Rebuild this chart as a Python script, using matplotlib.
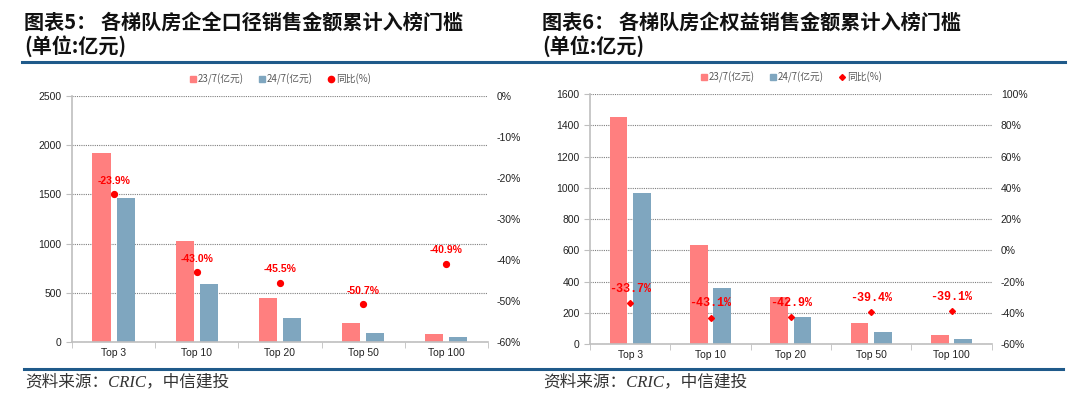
import matplotlib.pyplot as plt
import numpy as np
from matplotlib.lines import Line2D

plt.rcParams['font.family'] = ['Noto Sans CJK SC', 'DejaVu Sans']

cats = ['Top 3', 'Top 10', 'Top 20', 'Top 50', 'Top 100']

# chart 5: all-caliber sales threshold (100m yuan)
full_23 = [1925, 1025, 445, 195, 80]
full_24 = [1465, 585, 240, 95, 50]
full_yoy = [-23.9, -43.0, -45.5, -50.7, -40.9]

# chart 6: equity sales threshold (100m yuan)
eq_23 = [1455, 635, 300, 133, 58]
eq_24 = [965, 360, 172, 80, 35]
eq_yoy = [-33.7, -43.1, -42.9, -39.4, -39.1]

PINK = '#FF7F7F'
BLUE = '#7FA6BF'
RED = '#FF0000'
GRID = '#7F7F7F'

fig = plt.figure(figsize=(10.8, 3.95), dpi=100)


def panel(rect, v23, v24, yoy, ylim, ystep, y2lim, y2step, mono):
    ax = fig.add_axes(rect)
    x = np.arange(len(cats))
    ax.bar(x - 0.145, v23, width=0.22, color=PINK, zorder=2)
    ax.bar(x + 0.145, v24, width=0.22, color=BLUE, zorder=2)
    ax.set_xlim(-0.5, len(cats) - 0.5)
    ax.set_ylim(*ylim)
    ax.set_yticks(np.arange(ylim[0], ylim[1] + 1, ystep))
    ax.yaxis.grid(True, color=GRID, linestyle=(0, (1, 1)), linewidth=0.8, zorder=0)
    ax.set_xticks(x)
    ax.set_xticklabels(cats)
    ax.set_xticks(np.arange(-0.5, len(cats)), minor=True)
    ax.tick_params(axis='x', which='major', length=0, labelsize=7.5, colors='#222222', pad=4)
    ax.tick_params(axis='x', which='minor', length=4, color='#BFBFBF')
    ax.tick_params(axis='y', length=4, color='#BFBFBF', labelsize=7.5, labelcolor='#222222')
    for s in ['top', 'right']:
        ax.spines[s].set_visible(False)
    for s in ['left', 'bottom']:
        ax.spines[s].set_color('#BFBFBF')
        ax.spines[s].set_linewidth(1.2)
    for lab in ax.get_yticklabels() + ax.get_xticklabels():
        lab.set_family(['Liberation Sans', 'DejaVu Sans'])

    ax2 = ax.twinx()
    ax2.set_ylim(*y2lim)
    ax2.set_yticks(np.arange(y2lim[0], y2lim[1] + 1, y2step))
    ax2.set_yticklabels([f'{int(round(t))}%' for t in ax2.get_yticks()])
    ax2.tick_params(axis='y', length=0, labelsize=7.5, labelcolor='#222222', pad=6.5)
    for lab in ax2.get_yticklabels():
        lab.set_family(['Liberation Sans', 'DejaVu Sans'])
    for s in ax2.spines.values():
        s.set_visible(False)
    if mono:
        ax2.plot(x, yoy, linestyle='none', marker='D', markersize=3, color=RED, zorder=4)
        for xi, v in zip(x, yoy):
            ax2.annotate(f'{v:.1f}%', (xi, v), xytext=(0, 6), textcoords='offset points',
                         ha='center', va='bottom', color=RED, fontsize=8.5,
                         family='Liberation Mono', fontweight='bold')
    else:
        ax2.plot(x, yoy, linestyle='none', marker='o', markersize=4.2, color=RED, zorder=4)
        for xi, v in zip(x, yoy):
            ax2.annotate(f'{v:.1f}%', (xi, v), xytext=(0, 6), textcoords='offset points',
                         ha='center', va='bottom', color=RED, fontsize=7.5,
                         family='Liberation Sans', fontweight='bold')

    handles = [Line2D([], [], linestyle='none', marker='s', markersize=4, color=PINK),
               Line2D([], [], linestyle='none', marker='s', markersize=4, color=BLUE),
               Line2D([], [], linestyle='none', marker='D' if mono else 'o',
                      markersize=3 if mono else 4.5, color=RED)]
    leg = ax.legend(handles, ['23/7(亿元)', '24/7(亿元)', '同比(%)'], loc='lower center',
                    bbox_to_anchor=(0.5, 1.03), ncol=3, frameon=False, fontsize=7,
                    handletextpad=0.1, columnspacing=1.5, handlelength=0.8,
                    borderaxespad=0)
    for t in leg.get_texts():
        t.set_color('#595959')
    return ax


panel([0.0667, 0.134, 0.385, 0.623], full_23, full_24, full_yoy,
      (0, 2500), 500, (-60, 0), 10, False)
panel([0.5463, 0.129, 0.372, 0.633], eq_23, eq_24, eq_yoy,
      (0, 1600), 200, (-60, 100), 20, True)

# headers
for x0, title in [(24, '图表5： 各梯队房企全口径销售金额累计入榜门槛'),
                  (542, '图表6： 各梯队房企权益销售金额累计入榜门槛')]:
    fig.text(x0 / 1080, 1 - 22 / 395, title,
             fontsize=14.5, fontweight='bold', va='center', ha='left', color='#111111')
    fig.text(x0 / 1080, 1 - 46 / 395, '(单位:亿元)',
             fontsize=14.5, fontweight='bold', va='center', ha='left', color='#111111')
    fig.text((x0 + 1) / 1080, 1 - 382 / 395, '资料来源：CRIC，中信建投', fontsize=12,
             va='center', ha='left', color='#333333', style='italic',
             family=['Liberation Serif', 'Noto Sans CJK SC'])

fig.add_artist(Line2D([22 / 1080, 1065 / 1080], [1 - 62 / 395] * 2,
                      color='#1F5A8A', linewidth=2.2))
fig.add_artist(Line2D([24 / 1080, 1063 / 1080], [1 - 369 / 395] * 2,
                      color='#1F5A8A', linewidth=2.2))

fig.savefig('out.png', dpi=100)
